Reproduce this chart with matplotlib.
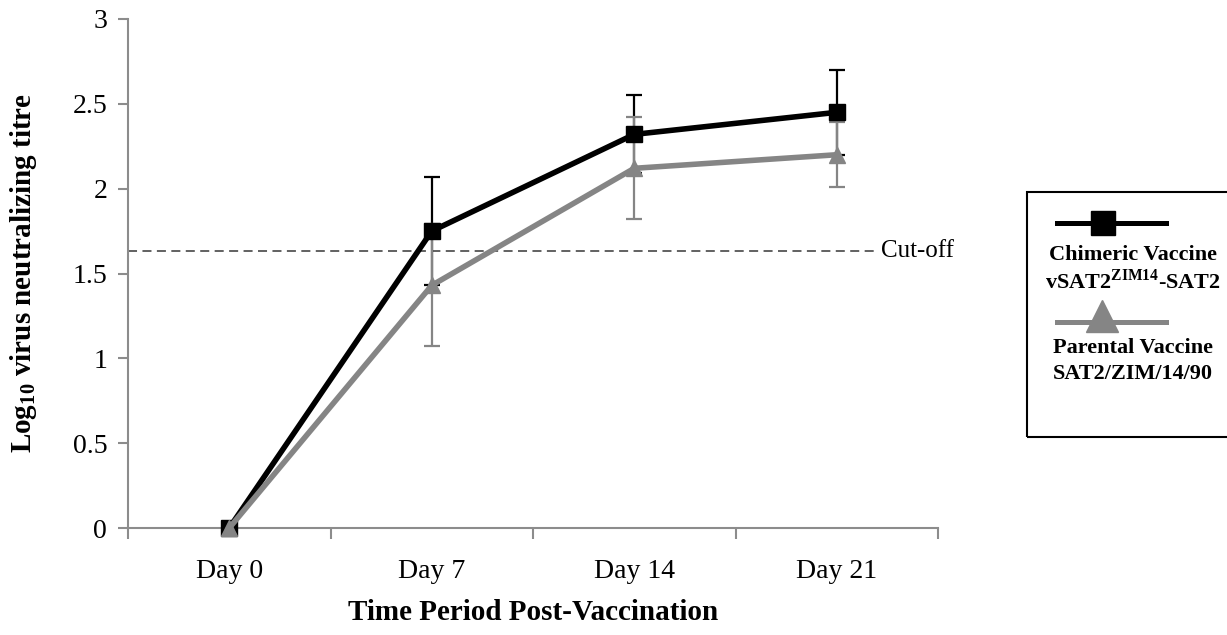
import matplotlib.pyplot as plt
from matplotlib.lines import Line2D
from matplotlib.patches import Rectangle

plt.rcParams['font.family'] = ['Liberation Serif', 'DejaVu Serif']
plt.rcParams['mathtext.fontset'] = 'custom'
plt.rcParams['mathtext.rm'] = 'Liberation Serif'
plt.rcParams['mathtext.bf'] = 'Liberation Serif:bold'

days = ["Day 0", "Day 7", "Day 14", "Day 21"]
chimeric = [0.0, 1.75, 2.32, 2.45]
chimeric_err = [0.0, 0.32, 0.23, 0.25]
parental = [0.0, 1.43, 2.12, 2.20]
parental_err = [0.0, 0.36, 0.30, 0.19]
cutoff = 1.63

BLACK = "#000000"
GREY = "#858585"
AXIS = "#8c8c8c"

fig = plt.figure(figsize=(12.27, 6.35), dpi=100)
ax = fig.add_axes([128 / 1227, 107 / 635, 810 / 1227, 509 / 635])
x = list(range(len(days)))

ax.errorbar(x, chimeric, yerr=chimeric_err, fmt="none", ecolor=BLACK,
            elinewidth=1.6, capsize=6, capthick=1.6, zorder=2)
ax.errorbar(x, parental, yerr=parental_err, fmt="none", ecolor=GREY,
            elinewidth=1.6, capsize=6, capthick=1.6, zorder=3)
ax.plot(x, chimeric, color=BLACK, lw=4, marker="s", ms=11, zorder=4,
        clip_on=False)
ax.plot(x, parental, color=GREY, lw=4, marker="^", ms=12, zorder=5,
        clip_on=False, markevery=[0])
ax.plot(x[1:], parental[1:], color=GREY, lw=0, marker="^", ms=12,
        zorder=3.5)

# cut-off line
ax.plot([-0.5, 3.2], [cutoff, cutoff], color="#555555", lw=1.3,
        ls=(0, (5, 3)), clip_on=False, zorder=1)
ax.text(3.22, cutoff, "Cut-off", fontsize=18, va="center", ha="left")

ax.set_xlim(-0.5, 3.5)
ax.set_ylim(0, 3)
ax.set_yticks([0, 0.5, 1, 1.5, 2, 2.5, 3])
ax.set_yticklabels(["0", "0.5", "1", "1.5", "2", "2.5", "3"])
ax.set_xticks(x)
ax.set_xticklabels(days)
ax.set_xticks([-0.5, 0.5, 1.5, 2.5, 3.5], minor=True)
ax.tick_params(axis="x", which="major", length=0, pad=22, labelsize=20)
ax.tick_params(axis="x", which="minor", length=8, width=1.5, color=AXIS)
ax.tick_params(axis="y", length=7, width=1.5, color=AXIS, pad=8,
               labelsize=20)
for s in ["top", "right"]:
    ax.spines[s].set_visible(False)
for s in ["left", "bottom"]:
    ax.spines[s].set_color(AXIS)
    ax.spines[s].set_linewidth(1.5)

ax.set_xlabel("Time Period Post-Vaccination", fontsize=21,
              fontweight="bold", labelpad=11)
ax.set_ylabel(r"Log$_{\mathbf{10}}$ virus neutralizing titre", fontsize=21,
              fontweight="bold", labelpad=24)

# legend box
fig.patches.append(Rectangle((1027 / 1227, (635 - 437) / 635),
                             210 / 1227, 245 / 635, transform=fig.transFigure,
                             fill=False, ec=BLACK, lw=1.5))
fig.lines.append(Line2D([1057 / 1227, 1166 / 1227],
                        [(635 - 223) / 635] * 2, transform=fig.transFigure,
                        color=BLACK, lw=3.6))
fig.lines.append(Line2D([1103 / 1227], [(635 - 223) / 635],
                        transform=fig.transFigure, color=BLACK, marker="s",
                        ms=17))
fig.lines.append(Line2D([1057 / 1227, 1166 / 1227],
                        [(635 - 322) / 635] * 2, transform=fig.transFigure,
                        color=GREY, lw=3.6))
fig.lines.append(Line2D([1102 / 1227], [(635 - 316) / 635],
                        transform=fig.transFigure, color=GREY, marker="^",
                        ms=23))
fig.text(1133 / 1227, (635 - 255) / 635, "Chimeric Vaccine", fontsize=16,
         fontweight="bold", ha="center", va="center")
fig.text(1133 / 1227, (635 - 282) / 635,
         r"vSAT2$^{\mathbf{ZIM14}}$-SAT2", fontsize=16,
         fontweight="bold", ha="center", va="center")
fig.text(1133 / 1227, (635 - 348) / 635, "Parental Vaccine", fontsize=16,
         fontweight="bold", ha="center", va="center")
fig.text(1133 / 1227, (635 - 374) / 635, "SAT2/ZIM/14/90", fontsize=16,
         fontweight="bold", ha="center", va="center")

fig.savefig("out.png", dpi=100)
